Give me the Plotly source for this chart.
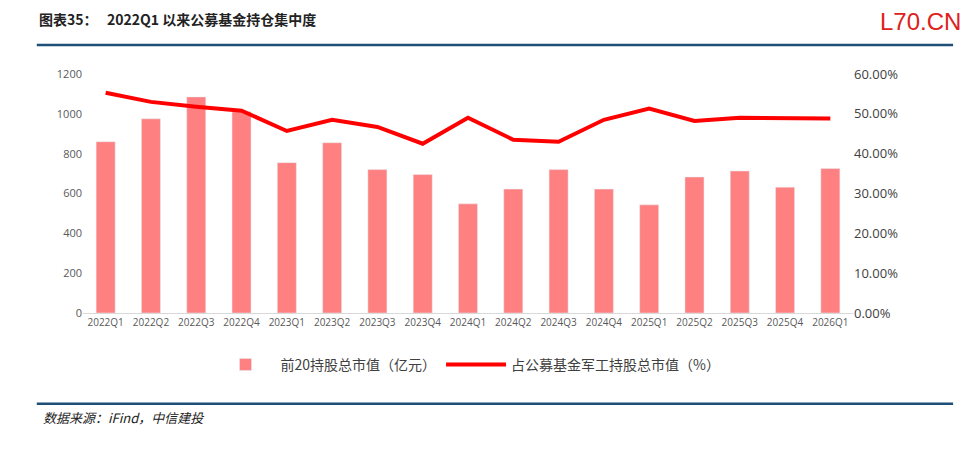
import plotly.graph_objects as go

quarters = ["2022Q1", "2022Q2", "2022Q3", "2022Q4", "2023Q1", "2023Q2", "2023Q3", "2023Q4",
            "2024Q1", "2024Q2", "2024Q3", "2024Q4", "2025Q1", "2025Q2", "2025Q3", "2025Q4", "2026Q1"]
top20_value = [860, 975, 1085, 1010, 755, 855, 720, 695, 548, 622, 720, 622, 543, 683, 713, 632, 725]
share_pct = [55.3, 53.0, 51.8, 50.8, 45.7, 48.5, 46.7, 42.5, 49.0, 43.5, 43.0, 48.5, 51.3, 48.2, 49.0, 49.0, 48.8]

fig = go.Figure()
fig.add_trace(go.Bar(x=quarters, y=top20_value, name="前20持股总市值（亿元）",
                     marker_color="#FF8080", width=0.42))
fig.add_trace(go.Scatter(x=quarters, y=[v / 100 for v in share_pct], name="占公募基金军工持股总市值（%）",
                         mode="lines", line=dict(color="#FF0000", width=4), yaxis="y2"))

tick_font = dict(family="Open Sans", size=11, color="#595959")
fig.update_layout(
    width=972, height=457, plot_bgcolor="white", paper_bgcolor="white",
    margin=dict(l=75, r=127, t=66, b=152),
    bargap=0.5, showlegend=True,
    legend=dict(orientation="h", x=0.5, xanchor="center", y=-0.15, yanchor="top",
                font=dict(family="Noto Sans CJK SC", size=14, color="#404040"), itemwidth=60),
    xaxis=dict(tickfont=dict(family="Open Sans", size=10, color="#595959"), showline=True,
               linecolor="#D9D9D9", ticks=""),
    yaxis=dict(range=[0, 1200], dtick=200, tickfont=tick_font, showgrid=False, zeroline=False),
    yaxis2=dict(range=[0, 0.6], dtick=0.1, tickformat=".2%", overlaying="y", side="right",
                tickfont=dict(family="Open Sans", size=13, color="#404040"), showgrid=False),
    shapes=[
        dict(type="line", xref="paper", yref="paper", x0=-0.06, x1=1.13, y0=1.121, y1=1.121,
             line=dict(color="#1F4E79", width=2.5)),
        dict(type="line", xref="paper", yref="paper", x0=-0.06, x1=1.13, y0=-0.38, y1=-0.38,
             line=dict(color="#1F4E79", width=2.5)),
    ],
    annotations=[
        dict(text="<b>图表35：   2022Q1 以来公募基金持仓集中度</b>", xref="paper", yref="paper",
             x=-0.06, y=1.28, xanchor="left", yanchor="top", showarrow=False,
             font=dict(family="Noto Sans CJK SC", size=14, color="#222")),
        dict(text="L70.CN", xref="paper", yref="paper", x=1.143, y=1.285, xanchor="right",
             yanchor="top", showarrow=False, font=dict(family="Liberation Sans", size=24, color="#E0201B")),
        dict(text="<i>数据来源：iFind，中信建投</i>", xref="paper", yref="paper", x=-0.055, y=-0.39,
             xanchor="left", yanchor="top", showarrow=False,
             font=dict(family="Noto Sans CJK SC", size=13, color="#222")),
    ],
)
fig.write_html("out.html")
